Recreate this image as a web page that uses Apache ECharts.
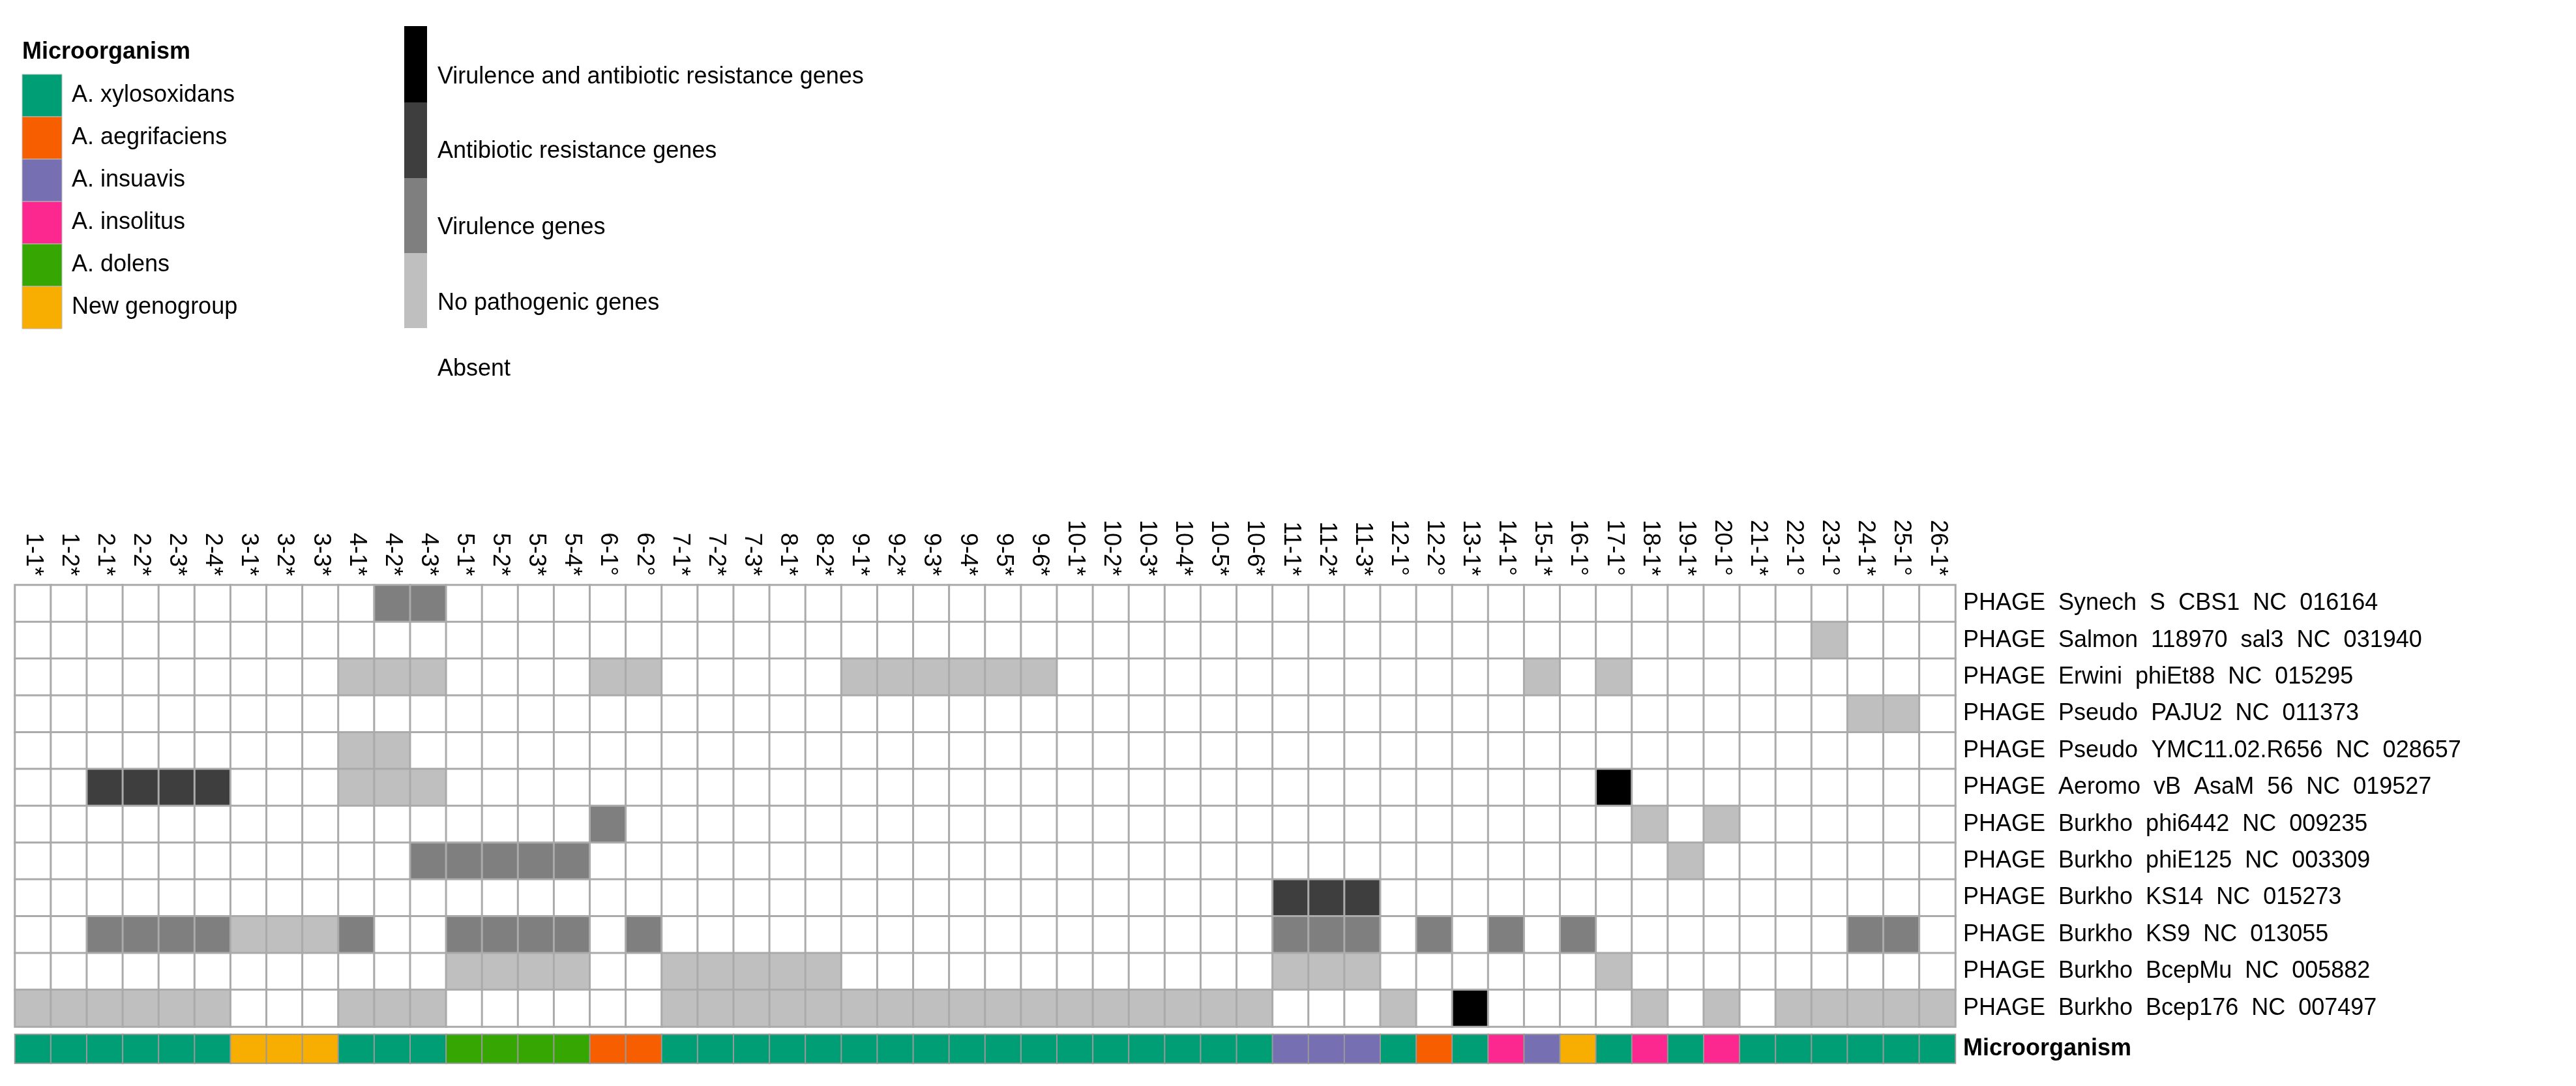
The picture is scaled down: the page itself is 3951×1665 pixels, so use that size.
<!DOCTYPE html>
<html><head><meta charset="utf-8">
<script src="https://cdn.jsdelivr.net/npm/echarts@6/dist/echarts.min.js"></script>
<style>html,body{margin:0;padding:0;background:#fff}#c{width:3951px;height:1665px}</style>
</head><body><div id="c"></div>
<script>
const columns = ["1-1*","1-2*","2-1*","2-2*","2-3*","2-4*","3-1*","3-2*","3-3*","4-1*","4-2*","4-3*","5-1*","5-2*","5-3*","5-4*","6-1°","6-2°","7-1*","7-2*","7-3*","8-1*","8-2*","9-1*","9-2*","9-3*","9-4*","9-5*","9-6*","10-1*","10-2*","10-3*","10-4*","10-5*","10-6*","11-1*","11-2*","11-3*","12-1°","12-2°","13-1*","14-1°","15-1*","16-1°","17-1°","18-1*","19-1*","20-1°","21-1*","22-1°","23-1°","24-1*","25-1°","26-1*"];
const phages = ["PHAGE  Synech  S  CBS1  NC  016164","PHAGE  Salmon  118970  sal3  NC  031940","PHAGE  Erwini  phiEt88  NC  015295","PHAGE  Pseudo  PAJU2  NC  011373","PHAGE  Pseudo  YMC11.02.R656  NC  028657","PHAGE  Aeromo  vB  AsaM  56  NC  019527","PHAGE  Burkho  phi6442  NC  009235","PHAGE  Burkho  phiE125  NC  003309","PHAGE  Burkho  KS14  NC  015273","PHAGE  Burkho  KS9  NC  013055","PHAGE  Burkho  BcepMu  NC  005882","PHAGE  Burkho  Bcep176  NC  007497"];
// 0 absent, 1 no pathogenic, 2 virulence, 3 antibiotic resistance, 4 both
const rowSynech  = "000000000022000000000000000000000000000000000000000000";
const rowSalmon  = "000000000000000000000000000000000000000000000000001000";
const rowErwini  = "000000000111000011000001111110000000000000101000000000";
const rowPAJU2   = "000000000000000000000000000000000000000000000000000110";
const rowYMC     = "000000000110000000000000000000000000000000000000000000";
const rowAeromo  = "003333000111000000000000000000000000000000004000000000";
const rowPhi6442 = "000000000000000020000000000000000000000000000101000000";
const rowPhiE125 = "000000000002222200000000000000000000000000000010000000";
const rowKS14    = "000000000000000000000000000000000003330000000000000000";
const rowKS9     = "002222111200222202000000000000000002220202020000000220";
const rowBcepMu  = "000000000000111100111110000000000001110000001000000000";
const rowBcep176 = "111111000111000000111111111111111110001040000101011111";
const matrixRows = [rowSynech,rowSalmon,rowErwini,rowPAJU2,rowYMC,rowAeromo,rowPhi6442,rowPhiE125,rowKS14,rowKS9,rowBcepMu,rowBcep176];
const geneLabels = ["Absent","No pathogenic genes","Virulence genes","Antibiotic resistance genes","Virulence and antibiotic resistance genes"];
const geneColors = ["#ffffff","#bfbfbf","#7f7f7f","#3e3e3e","#000000"];
const microNames = ["A. xylosoxidans","A. aegrifaciens","A. insuavis","A. insolitus","A. dolens","New genogroup"];
const microColors = ["#009E74","#F75E00","#7670B3","#FD2790","#35A602","#F8AE00"];
// index into microNames per column
const microByColumn = [0,0,0,0,0,0,5,5,5,0,0,0,4,4,4,4,1,1,0,0,0,0,0,0,0,0,0,0,0,0,0,0,0,0,0,2,2,2,0,1,0,3,2,5,0,3,0,3,0,0,0,0,0,0];

const FONT = "Liberation Sans";
const heatData = [];
matrixRows.forEach((r,ri)=>{ for(let ci=0;ci<columns.length;ci++){ const v=+r[ci]; heatData.push({value:[ci,ri,v],itemStyle:{color:geneColors[v]}}); }});
const barData = microByColumn.map((m,ci)=>({value:[ci,0,m],itemStyle:{color:microColors[m]}}));

const chart = echarts.init(document.getElementById('c'));
const graphics = [];
graphics.push({type:'text',left:34,top:62,style:{text:'Microorganism',font:'bold 36px '+FONT,fill:'#000'}});
microNames.forEach((n,i)=>{
  graphics.push({type:'rect',shape:{x:34,y:114+i*65,width:61,height:65},style:{fill:microColors[i],stroke:'#bbb',lineWidth:1}});
  graphics.push({type:'text',x:110,y:114+i*65+32,style:{text:n,font:'36px '+FONT,fill:'#000',verticalAlign:'middle'}});
});
const segY=[40,157,273,388,503];
for(let k=0;k<4;k++){
  graphics.push({type:'rect',shape:{x:620,y:segY[k],width:35,height:segY[k+1]-segY[k]},style:{fill:geneColors[4-k]}});
}
const labY=[118,232,349,465,566];
for(let k=0;k<5;k++){
  graphics.push({type:'text',x:671,y:labY[k],style:{text:geneLabels[4-k],font:'36px '+FONT,fill:'#000',verticalAlign:'middle'}});
}
chart.setOption({
  animation:false,
  textStyle:{fontFamily:FONT},
  graphic:graphics,
  grid:[{left:23,right:952,top:897,height:677},{left:23,right:952,top:1586,height:44}],
  xAxis:[
    {type:'category',gridIndex:0,data:columns,position:'top',axisLine:{show:false},axisTick:{show:false},splitLine:{show:false},
     axisLabel:{rotate:90,fontSize:36,color:'#000',margin:14,fontFamily:FONT,interval:0}},
    {type:'category',gridIndex:1,data:columns,axisLine:{show:false},axisTick:{show:false},axisLabel:{show:false}}
  ],
  yAxis:[
    {type:'category',gridIndex:0,data:phages,inverse:true,position:'right',axisLine:{show:false},axisTick:{show:false},
     axisLabel:{fontSize:36,color:'#000',margin:12,fontFamily:FONT,interval:0}},
    {type:'category',gridIndex:1,data:['Microorganism'],position:'right',axisLine:{show:false},axisTick:{show:false},
     axisLabel:{fontSize:36,fontWeight:'bold',color:'#000',margin:12,fontFamily:FONT}}
  ],
  series:[
    {type:'heatmap',xAxisIndex:0,yAxisIndex:0,data:heatData,itemStyle:{borderColor:'#aaaaaa',borderWidth:3}},
    {type:'heatmap',xAxisIndex:1,yAxisIndex:1,data:barData,itemStyle:{borderColor:'#999999',borderWidth:2}}
  ]
});
</script></body></html>
